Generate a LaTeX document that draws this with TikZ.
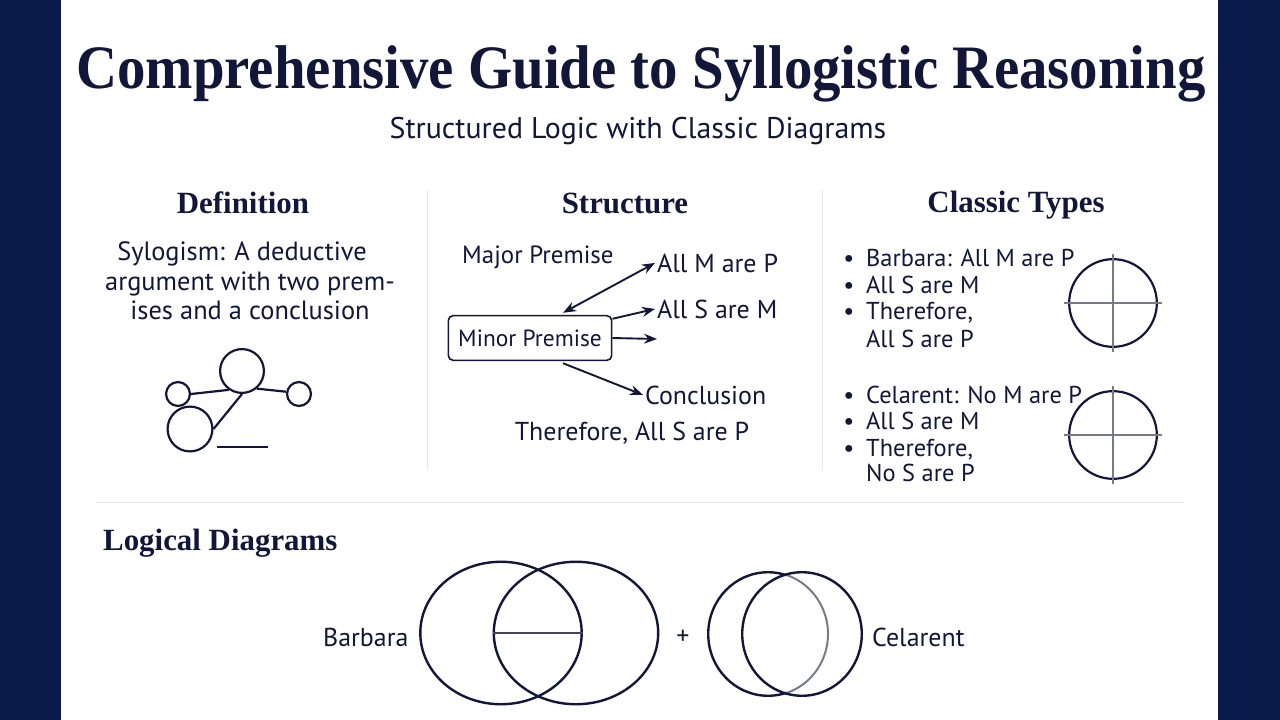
\documentclass[tikz,border=0pt]{standalone}
\usepackage{fontspec}
\setmainfont{Liberation Serif}
\setsansfont{PT Sans}
\usetikzlibrary{shapes.geometric,arrows.meta,calc}
\definecolor{navy}{RGB}{10,26,74}
\definecolor{ink}{RGB}{18,22,56}
\definecolor{sepc}{RGB}{230,232,236}
\definecolor{crossc}{RGB}{120,122,135}
\begin{document}
\begin{tikzpicture}[x=1bp,y=-1bp,
  every node/.style={text=ink},
  ttl/.style={font=\fontsize{62}{70}\selectfont\bfseries, inner sep=0},
  sub/.style={font=\sffamily\fontsize{30}{34}\selectfont, inner sep=0},
  head/.style={font=\fontsize{31}{36}\selectfont\bfseries, inner sep=0},
  deftxt/.style={font=\sffamily\fontsize{26.5}{30}\selectfont, inner sep=0},
  slbl/.style={font=\sffamily\fontsize{26}{30}\selectfont, inner sep=2},
  sminor/.style={font=\sffamily\fontsize{25}{28}\selectfont, inner sep=2},
  ctxt/.style={font=\sffamily\fontsize{24.5}{28}\selectfont, inner sep=0},
  vlbl/.style={font=\sffamily\fontsize{26}{30}\selectfont, inner sep=0},
  minorbox/.style={draw=ink, line width=1.6, rounded corners=5, minimum width=164, minimum height=45, font=\sffamily\fontsize{23.5}{28}\selectfont, inner sep=0},
  dcirc/.style={circle, draw=ink, line width=2.2, inner sep=0},
  dline/.style={draw=ink, line width=2.2},
  arr/.style={draw=ink, line width=1.9, -{Stealth[length=13,width=10]}},
  darr/.style={draw=ink, line width=1.9, {Stealth[length=13,width=10]}-{Stealth[length=13,width=10]}},
  tcirc/.style={circle, draw=ink, line width=2.2, minimum size=88, inner sep=0},
  crossl/.style={draw=crossc, line width=1.1},
  venn/.style={ellipse, draw=ink, line width=2.4, inner sep=0},
  sepl/.style={draw=sepc, line width=1}
]
\useasboundingbox (0,0) rectangle (1280,720);
\fill[navy] (0,0) rectangle (1280,720);
\fill[white] (61,0) rectangle (1218,720);

% title
\node[ttl, anchor=base] (title) at (641,89) {\scalebox{0.92}[1]{Comprehensive Guide to Syllogistic Reasoning}};
\node[sub, anchor=base] (subtitle) at (638,139) {Structured Logic with Classic Diagrams};

% separators
\draw[sepl] (427,190) -- (427,470);
\draw[sepl] (822,190) -- (822,470);
\draw[sepl] (95,502) -- (1185,502);

% Definition
\node[head, anchor=base] (hdef) at (243,214) {Definition};
\node[deftxt, anchor=base] (d1) at (242,260) {Sylogism: A deductive};
\node[deftxt, anchor=base] (d2) at (250,290) {argument with two prem-};
\node[deftxt, anchor=base] (d3) at (250,319) {ises and a conclusion};

\node[dcirc, minimum size=24] (c1) at (178,394) {};
\node[dcirc, minimum size=44] (c2) at (242,371) {};
\node[dcirc, minimum size=24] (c3) at (299,394) {};
\node[dcirc, minimum size=45] (c4) at (190,429) {};
\coordinate (b1) at (217,447);
\coordinate (b2) at (268,447);
\draw[dline] (c1.east) -- (c2.235);
\draw[dline] (c2.-50) -- (c3.170);
\draw[dline] (c2.south) -- (c4.east);
\draw[dline] (b1) -- (b2);

% Structure
\node[head, anchor=base] (hstr) at (625,214) {Structure};
\node[sminor, anchor=base west] (majp) at (460,263) {Major Premise};
\node[slbl, anchor=base west] (amp) at (655,272) {All M are P};
\node[slbl, anchor=base west] (asm) at (655,318) {All S are M};
\node[minorbox] (minor) at (530,338) {Minor Premise};
\coordinate (mend) at (657,339);
\node[slbl, anchor=base west] (concl) at (643,404) {Conclusion};
\node[slbl, anchor=base] (ther) at (632,440) {Therefore, All S are P};

\draw[darr] ($(minor.north)+(33,-2)$) -- (amp.west);
\draw[arr] ($(minor.north east)+(0,4)$) -- (asm.west);
\draw[arr] (minor.east) -- (mend);
\draw[arr] ($(minor.south)+(33,2)$) -- (concl.west);

% Classic Types
\node[head, anchor=base] (hcls) at (1016,213) {Classic Types};
\foreach \yy/\nm/\tx/\bl in {266/t1/{Barbara: All M are P}/1, 293/t2/{All S are M}/1, 319/t3/{Therefore,}/1, 347/t4/{All S are P}/0,
  403/t5/{Celarent: No M are P}/1, 429/t6/{All S are M}/1, 456/t7/{Therefore,}/1, 481/t8/{No S are P}/0}{
  \node[ctxt, anchor=base west] (\nm) at (866,\yy) {\tx};
  \ifnum\bl=1 \node[ctxt, anchor=base] (\nm b) at (849,\yy) {\textbullet};\fi
}
\node[tcirc] (ca) at (1113,303) {};
\draw[crossl] ($(ca.north)+(0,-4)$) -- ($(ca.south)+(0,4)$);
\draw[crossl] ($(ca.west)+(-4,0)$) -- ($(ca.east)+(4,0)$);
\node[tcirc] (cb) at (1113,435) {};
\draw[crossl] ($(cb.north)+(0,-4)$) -- ($(cb.south)+(0,4)$);
\draw[crossl] ($(cb.west)+(-4,0)$) -- ($(cb.east)+(4,0)$);

% Logical Diagrams
\node[head, anchor=base west] (hlog) at (103,550) {Logical Diagrams};
\node[vlbl, anchor=base west] (lbar) at (323,646) {Barbara};
\node[venn, minimum width=162, minimum height=143] (bl) at (501,633) {};
\node[venn, minimum width=165, minimum height=143] (br) at (576,633) {};
\draw[draw=ink!80, line width=1.8] (br.west) -- (bl.east);
\node[vlbl, anchor=center] (plus) at (683,637) {+};
\node[venn, minimum width=120, minimum height=124] (cl) at (768,634) {};
\draw[white, line width=4] (cl.center) ++(-72:60 and 62) arc[start angle=-72, end angle=72, x radius=60, y radius=62];
\draw[draw=crossc, line width=2] (cl.center) ++(-74:60 and 62) arc[start angle=-74, end angle=74, x radius=60, y radius=62];
\node[venn, minimum width=120, minimum height=124] (cr) at (802,634) {};
\node[vlbl, anchor=base west] (lcel) at (872,646) {Celarent};
\end{tikzpicture}
\end{document}
